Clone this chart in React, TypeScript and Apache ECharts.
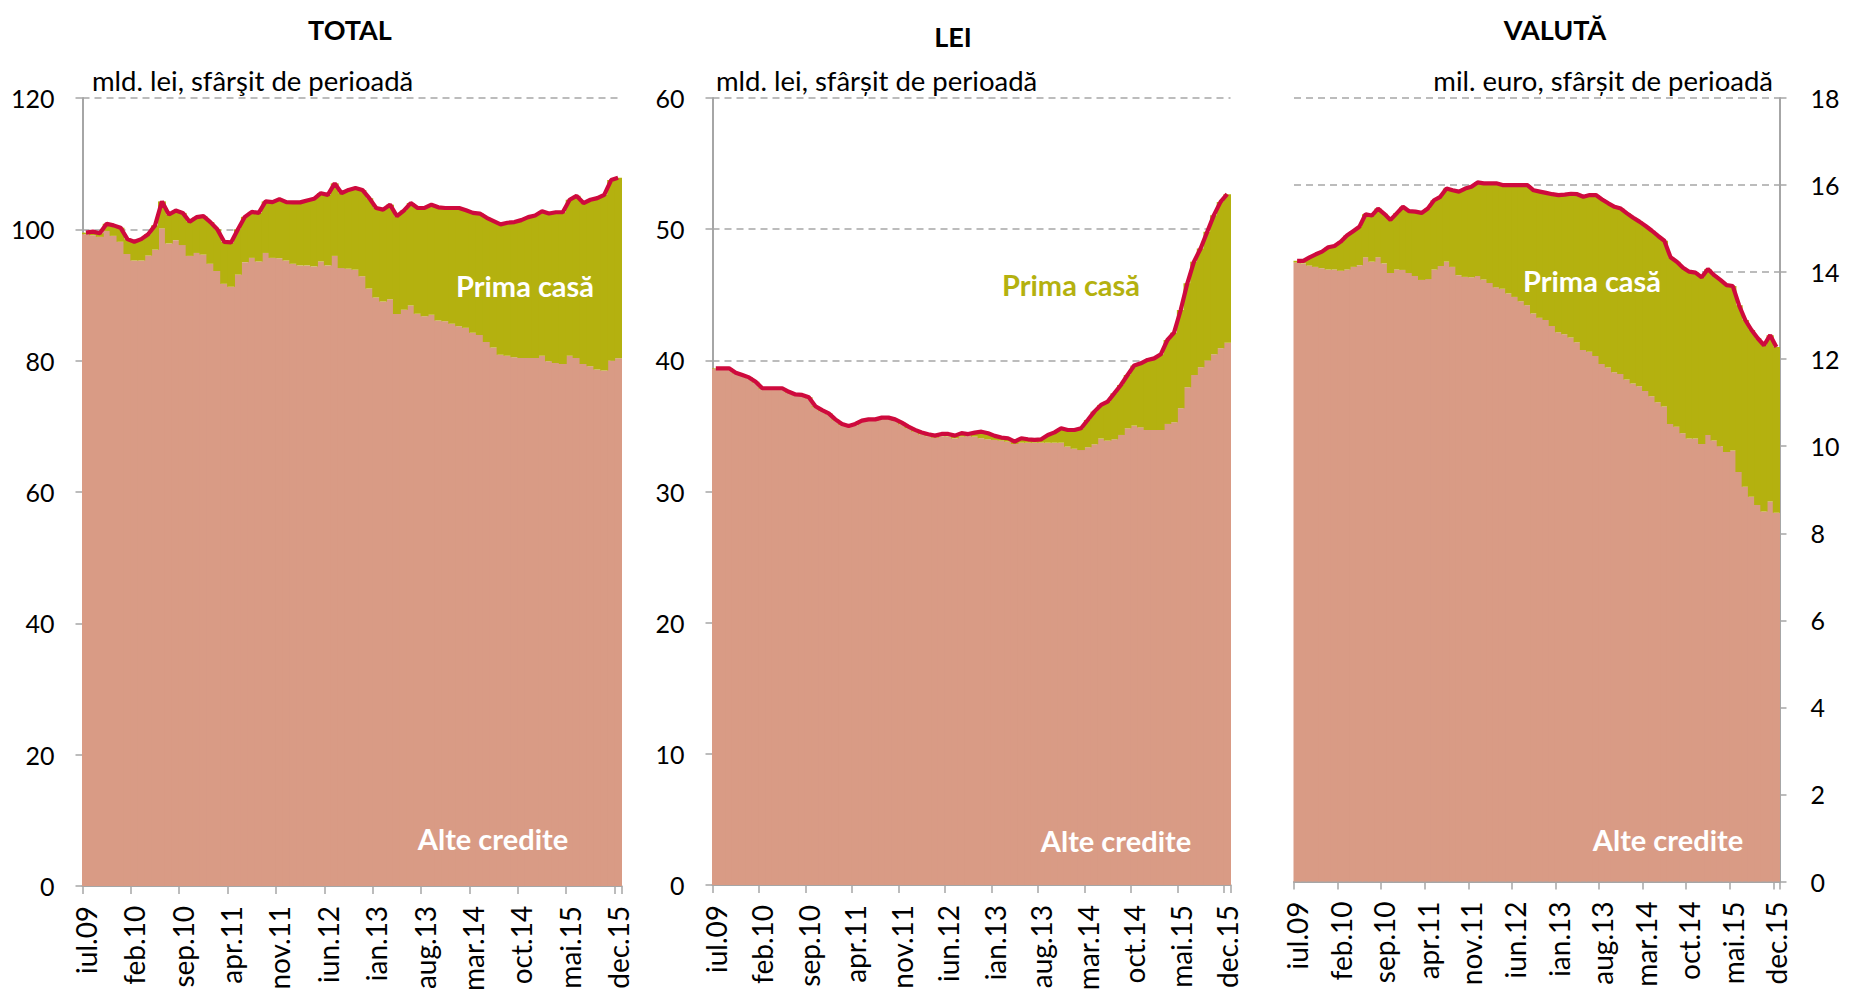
import React, { useEffect, useRef } from "react";
import * as echarts from "echarts";

const MONTHS = ["ian", "feb", "mar", "apr", "mai", "iun", "iul", "aug", "sep", "oct", "nov", "dec"];
const CATEGORIES: string[] = [];
for (let y = 2009; y <= 2015; y++) {
  for (let m = 0; m < 12; m++) {
    if (y === 2009 && m < 6) continue;
    CATEGORIES.push(MONTHS[m] + "." + String(y).slice(2));
  }
}

// TOTAL (mld. lei)
const totalLine = [
  99.5, 99.65, 99.4, 100.85, 100.6, 100.25, 98.5, 98.1, 98.5, 99.25,
  100.6, 104.25, 102.25, 102.85, 102.5, 101.15, 101.85, 102, 101.1, 100,
  98.1, 98, 100, 101.9, 102.65, 102.5, 104.25, 104.15, 104.6, 104.15,
  104.1, 104.1, 104.4, 104.65, 105.5, 105.25, 107, 105.5, 106, 106.3,
  106, 104.75, 103.25, 103, 103.75, 102, 102.85, 104, 103.25, 103.25,
  103.75, 103.35, 103.25, 103.25, 103.25, 102.9, 102.5, 102.4, 101.75, 101.25,
  100.75, 101, 101.1, 101.4, 101.85, 102.1, 102.75, 102.4, 102.6, 102.6,
  104.5, 105.1, 104, 104.5, 104.75, 105.25, 107.5, 107.85,
];
const totalAlte = [
  99.25, 99.1, 98.85, 99.75, 99, 98.1, 96.25, 95.25, 95.25, 96,
  96.9, 100.15, 97.85, 98.35, 97.6, 95.95, 96.4, 96.15, 94.75, 93.65,
  91.7, 91.25, 93.1, 95, 95.65, 95.1, 96.4, 95.65, 95.6, 95.25,
  94.75, 94.5, 94.5, 94.35, 95.1, 94.5, 95.95, 94.1, 94, 93.85,
  92.85, 91, 89.6, 89, 89.35, 87.1, 87.75, 88.4, 87.15, 86.75,
  87, 86.1, 86, 85.6, 85.25, 85, 84.25, 83.9, 82.85, 82,
  80.9, 80.75, 80.5, 80.4, 80.4, 80.4, 80.75, 79.9, 79.65, 79.5,
  80.75, 80.4, 79.5, 79.15, 78.65, 78.5, 80, 80.35,
];

// LEI (mld. lei)
const leiLine = [
  39.39, 39.39, 39.39, 39.06, 38.88, 38.7, 38.37, 37.87, 37.87, 37.87,
  37.87, 37.6, 37.4, 37.36, 37.18, 36.5, 36.2, 35.96, 35.5, 35.15,
  35.0, 35.15, 35.4, 35.5, 35.5, 35.63, 35.63, 35.5, 35.25, 34.95,
  34.7, 34.5, 34.37, 34.26, 34.39, 34.39, 34.26, 34.45, 34.38, 34.49,
  34.56, 34.44, 34.24, 34.11, 34.06, 33.8, 34.06, 33.98, 33.93, 33.98,
  34.31, 34.51, 34.82, 34.69, 34.69, 34.82, 35.45, 36.09, 36.6, 36.85,
  37.48, 38.12, 38.88, 39.6, 39.77, 40.03, 40.15, 40.46, 41.55, 42.11,
  43.84, 45.87, 47.52, 48.53, 49.8, 51.07, 52.08, 52.67,
];
const leiAlte = [
  39.35, 39.35, 39.35, 39.0, 38.82, 38.64, 38.3, 37.8, 37.8, 37.8,
  37.8, 37.53, 37.33, 37.29, 37.1, 36.42, 36.12, 35.88, 35.42, 35.07,
  34.92, 35.06, 35.3, 35.4, 35.4, 35.52, 35.52, 35.38, 35.12, 34.82,
  34.56, 34.35, 34.22, 34.1, 34.22, 34.2, 34.05, 34.18, 34.26, 34.18,
  34.06, 33.98, 33.93, 33.88, 33.8, 33.62, 33.72, 33.72, 33.72, 33.72,
  33.72, 33.72, 33.72, 33.42, 33.26, 33.16, 33.37, 33.6, 34.03, 33.88,
  33.98, 34.31, 34.82, 35.02, 34.89, 34.69, 34.69, 34.69, 35.15, 35.28,
  36.35, 37.95, 38.88, 39.47, 39.98, 40.46, 40.92, 41.35,
];

// VALUTĂ (mil. euro)
const valLine = [
  14.26, 14.26, 14.34, 14.41, 14.47, 14.57, 14.6, 14.7, 14.84, 14.94,
  15.04, 15.33, 15.3, 15.46, 15.34, 15.2, 15.35, 15.5, 15.4, 15.39,
  15.36, 15.46, 15.65, 15.73, 15.92, 15.88, 15.85, 15.92, 15.96, 16.06,
  16.04, 16.04, 16.04, 16.0, 16.0, 16.0, 16.0, 16.0, 15.88, 15.85,
  15.82, 15.79, 15.77, 15.78, 15.8, 15.79, 15.73, 15.77, 15.77, 15.67,
  15.58, 15.5, 15.46, 15.35, 15.25, 15.16, 15.06, 14.95, 14.83, 14.72,
  14.34, 14.24, 14.1, 14.01, 13.99, 13.88, 14.07, 13.93, 13.82, 13.7,
  13.68, 13.24, 12.9, 12.67, 12.48, 12.32, 12.55, 12.28,
];
const valAlte = [
  14.22, 14.2, 14.15, 14.12, 14.09, 14.06, 14.06, 14.03, 14.06, 14.12,
  14.16, 14.34, 14.24, 14.34, 14.2, 13.98, 14.06, 14.05, 13.98, 13.91,
  13.82, 13.84, 14.06, 14.14, 14.24, 14.12, 13.93, 13.89, 13.88, 13.91,
  13.83, 13.75, 13.65, 13.62, 13.51, 13.43, 13.33, 13.24, 13.05, 12.95,
  12.9, 12.76, 12.62, 12.57, 12.5, 12.39, 12.21, 12.17, 12.07, 11.89,
  11.81, 11.7, 11.66, 11.53, 11.44, 11.38, 11.27, 11.15, 11.01, 10.91,
  10.51, 10.45, 10.3, 10.18, 10.18, 10.05, 10.26, 10.13, 10.0, 9.87,
  9.9, 9.41, 9.07, 8.84, 8.65, 8.5, 8.73, 8.47,
];

const PANEL_TITLES = ["TOTAL", "LEI", "VALUTĂ"];
const UNIT_TEXTS = ["mld. lei, sfârşit de perioadă", "mld. lei, sfârșit de perioadă", "mil. euro, sfârșit de perioadă"];
const Y_MAX = [120, 60, 18];
const Y_INTERVAL = [20, 10, 2];

const PINK = "#D99B85";
const OLIVE = "#B4B10F";
const RED = "#CE0A3D";
const GRAYLINE = "#A6A6A6";
const FONT = "Lato, 'Noto Sans', sans-serif";

export default function App() {
  const ref = useRef<HTMLDivElement>(null);

  useEffect(() => {
    if (!ref.current) return;
    const chart = echarts.init(ref.current, undefined, { renderer: "svg" });

    const lines = [totalLine, leiLine, valLine];
    const altes = [totalAlte, leiAlte, valAlte];

    const grids = [
      { left: 82.5, top: 98, width: 539, height: 793 },
      { left: 712.5, top: 98, width: 518, height: 787 },
      { left: 1294, top: 98, width: 485.5, height: 783.5 },
    ];

    const xAxis = [0, 1, 2].map((p) => ({
      type: "category",
      gridIndex: p,
      data: CATEGORIES,
      boundaryGap: true,
      axisLine: { show: true, lineStyle: { color: GRAYLINE, width: 2 } },
      axisTick: { show: true, interval: 6, length: 8, lineStyle: { color: GRAYLINE, width: 1.5 } },
      axisLabel: { interval: 6, rotate: 90, margin: 20, fontSize: 28, fontFamily: FONT, color: "#000" },
      splitLine: { show: false },
    }));

    const yAxis = [0, 1, 2].map((p) => ({
      type: "value",
      gridIndex: p,
      position: p === 2 ? "right" : "left",
      min: 0,
      max: Y_MAX[p],
      interval: Y_INTERVAL[p],
      axisLine: { show: true, lineStyle: { color: GRAYLINE, width: 2 } },
      axisTick: { show: true, length: 7, lineStyle: { color: GRAYLINE, width: 1.5 } },
      axisLabel: { margin: p === 2 ? 31 : 28, fontSize: 25, fontFamily: FONT, color: "#000" },
      splitLine: { show: true, lineStyle: { type: [7, 5], color: GRAYLINE, width: 1.5 } },
    }));

    // Column layer: [categoryIndex, lower, upper]
    const columnSeries = (p: number, lower: (i: number) => number, upper: (i: number) => number, color: string, name: string, z: number) => ({
      type: "custom",
      name,
      xAxisIndex: p,
      yAxisIndex: p,
      silent: true,
      z,
      encode: { x: 0, y: [1, 2] },
      data: CATEGORIES.map((_, i) => [i, lower(i), upper(i)]),
      renderItem: (_params: any, api: any) => {
        const idx = api.value(0);
        const lo = api.coord([idx, api.value(1)]);
        const hi = api.coord([idx, api.value(2)]);
        const w = api.size([1, 0])[0];
        return {
          type: "rect",
          shape: { x: lo[0] - w / 2 - 0.5, y: hi[1], width: w + 1, height: Math.max(0, lo[1] - hi[1]) },
          style: { fill: color, stroke: null },
        };
      },
    });

    const series: any[] = [];
    [0, 1, 2].forEach((p) => {
      series.push(columnSeries(p, () => 0, (i) => altes[p][i], PINK, "Alte credite", 2));
      series.push(columnSeries(p, (i) => altes[p][i], (i) => lines[p][i], OLIVE, "Prima casă", 3));
      series.push({
        type: "line",
        name: "Total",
        xAxisIndex: p,
        yAxisIndex: p,
        data: lines[p],
        symbol: "none",
        lineStyle: { color: RED, width: 4.2 },
        z: 5,
        silent: true,
      });
    });

    const txt = (text: string, x: number, y: number, opts: any) => ({
      type: "text",
      x,
      y,
      z: 100,
      silent: true,
      style: { text, fontFamily: FONT, align: "center", verticalAlign: "middle", fill: "#000", ...opts },
    });

    const graphic = [
      txt(PANEL_TITLES[0], 350, 29, { fontSize: 27, fontWeight: "bold" }),
      txt(PANEL_TITLES[1], 953, 36, { fontSize: 27, fontWeight: "bold" }),
      txt(PANEL_TITLES[2], 1555, 29, { fontSize: 27, fontWeight: "bold" }),
      txt(UNIT_TEXTS[0], 92, 80, { fontSize: 27.5, align: "left" }),
      txt(UNIT_TEXTS[1], 716, 80, { fontSize: 27.5, align: "left" }),
      txt(UNIT_TEXTS[2], 1773, 80, { fontSize: 27.5, align: "right" }),
      txt("Prima casă", 525, 285, { fontSize: 29, fontWeight: "bold", fill: "#fff" }),
      txt("Alte credite", 493, 838, { fontSize: 29, fontWeight: "bold", fill: "#fff" }),
      txt("Prima casă", 1071, 284, { fontSize: 29, fontWeight: "bold", fill: OLIVE }),
      txt("Alte credite", 1116, 840, { fontSize: 29, fontWeight: "bold", fill: "#fff" }),
      txt("Prima casă", 1592, 280, { fontSize: 29, fontWeight: "bold", fill: "#fff" }),
      txt("Alte credite", 1668, 839, { fontSize: 29, fontWeight: "bold", fill: "#fff" }),
    ];

    chart.setOption({
      animation: false,
      backgroundColor: "#fff",
      grid: grids,
      xAxis,
      yAxis,
      series,
      graphic,
    });

    return () => chart.dispose();
  }, []);

  return (
    <div
      ref={ref}
      style={{ position: "fixed", left: 0, top: 0, width: 1850, height: 994, background: "#fff" }}
    />
  );
}
